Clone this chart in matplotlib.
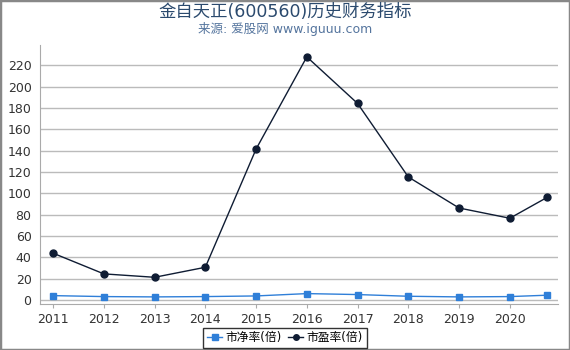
import matplotlib
matplotlib.use("Agg")
import matplotlib.pyplot as plt
from matplotlib.patches import Rectangle

plt.rcParams['font.family'] = ['DejaVu Sans', 'Noto Sans CJK SC']

# data
years = [2011, 2012, 2013, 2014, 2015, 2016, 2017, 2018, 2019, 2020, 2020.74]
pb = [4.0, 3.1, 2.8, 3.1, 3.7, 5.9, 5.0, 3.4, 2.8, 3.1, 4.4]
pe = [43.8, 24.4, 21.2, 30.6, 141.5, 228.0, 184.3, 115.3, 86.2, 76.6, 96.3]
xticks = [2011, 2012, 2013, 2014, 2015, 2016, 2017, 2018, 2019, 2020]
yticks = list(range(0, 221, 20))

fig = plt.figure(figsize=(5.7, 3.5), dpi=100)
ax = fig.add_axes([0.070, 0.131, 0.909, 0.740])

ax.plot(years, pb, color='#2f7fd8', lw=1, marker='s', ms=5, label='市净率(倍)', zorder=3)
ax.plot(years, pe, color='#0f1c33', lw=1, marker='o', ms=5, label='市盈率(倍)', zorder=4)

ax.set_xlim(2010.74, 2020.95)
ax.set_ylim(-4, 239)
ax.set_xticks(xticks)
ax.set_xticklabels([str(x) for x in xticks])
ax.set_yticks(yticks)
ax.tick_params(axis='both', labelsize=9, colors='#333333', length=3)
ax.tick_params(axis='y', length=0, pad=6)
ax.tick_params(axis='x', color='#aaaaaa')
ax.grid(axis='y', color='#bbbbbb', lw=1)
ax.set_axisbelow(True)
for s in ['top', 'right']:
    ax.spines[s].set_visible(False)
for s in ['left', 'bottom']:
    ax.spines[s].set_color('#aaaaaa')

fig.text(0.5, 0.965, '金自天正(600560)历史财务指标', ha='center', va='center', fontsize=12.5, color='#2b4a6e')
fig.text(0.5, 0.918, '来源: 爱股网 www.iguuu.com', ha='center', va='center', fontsize=9, color='#55759e')

leg = fig.legend(loc='center', bbox_to_anchor=(0.5, 0.035), ncol=2, fontsize=8.5, frameon=True,
                 fancybox=False, edgecolor='black', handlelength=1.3, handletextpad=0.3,
                 columnspacing=0.5, borderpad=0.3, markerscale=0.8)
leg.get_frame().set_linewidth(1)

fig.patches.append(Rectangle((0, 0), 1, 1, transform=fig.transFigure, fill=False,
                             edgecolor='#888888', lw=2.5))

fig.savefig('out.png', dpi=100)
